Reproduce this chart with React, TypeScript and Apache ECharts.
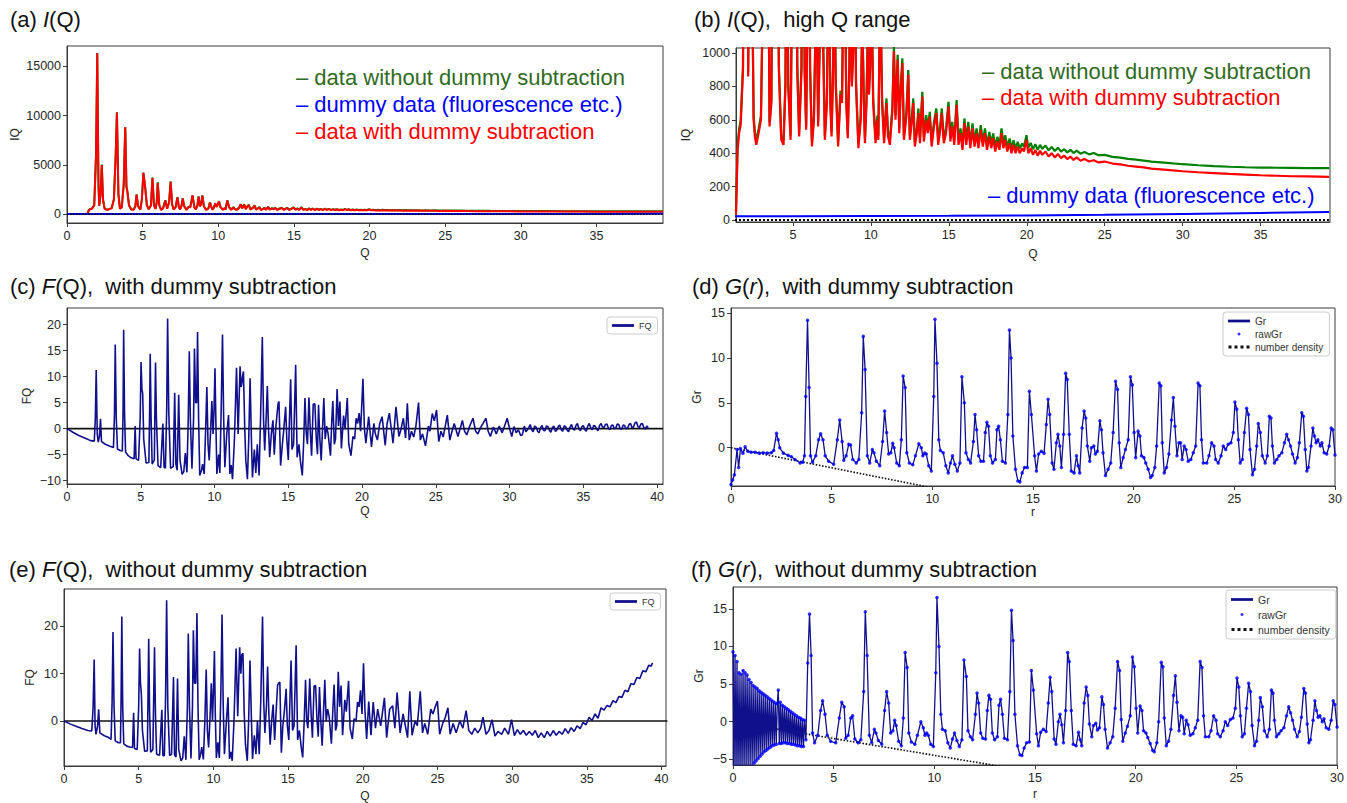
import React, { useEffect, useRef } from "react";
import * as echarts from "echarts";

// ---------------- (a)/(b) I(Q) ----------------
const iqWithDummySub: [number, number][] = [
  [1.35,30],[1.45,420],[1.55,520],[1.65,570],[1.8,900],[1.92,6000],[2.0,16300],[2.08,3000],[2.13,860],[2.22,2000],[2.3,5000],[2.38,1500],[2.48,600],[2.56,500],[2.65,450],[2.8,520],[2.95,600],[3.1,1500],[3.22,6000],[3.3,10300],[3.4,2000],[3.5,560],[3.62,700],[3.75,3000],[3.85,8800],[3.93,2800],[4.0,2200],[4.1,900],[4.25,480],[4.4,450],[4.52,800],[4.6,2000],[4.7,800],[4.85,480],[4.95,1500],[5.05,4200],[5.15,3000],[5.28,900],[5.4,500],[5.55,900],[5.65,3700],[5.75,900],[5.85,540],[5.93,1200],[6.0,3200],[6.1,900],[6.22,440],[6.35,600],[6.5,1400],[6.62,560],[6.75,1200],[6.85,3300],[6.95,1000],[7.05,480],[7.18,700],[7.3,1700],[7.4,700],[7.48,500],[7.58,900],[7.65,1600],[7.75,800],[7.9,440],[8.05,750],[8.15,700],[8.3,1900],[8.42,700],[8.52,490],[8.62,900],[8.7,1800],[8.78,800],[8.87,1000],[8.95,1900],[9.05,800],[9.2,430],[9.35,600],[9.45,1200],[9.55,700],[9.62,460],[9.72,700],[9.8,1100],[9.88,750],[9.95,900],[10.05,1300],[10.15,700],[10.3,460],[10.42,600],[10.48,480],[10.6,1400],[10.72,700],[10.85,460],[11.0,700],[11.1,500],[11.22,450],[11.38,650],[11.48,1010],[11.58,600],[11.72,960],[11.82,520],[11.92,780],[12.02,940],[12.12,480],[12.28,620],[12.4,870],[12.5,480],[12.62,580],[12.72,700],[12.82,440],[12.95,520],[13.05,640],[13.15,460],[13.3,740],[13.4,470],[13.55,600],[13.65,520],[13.78,620],[13.9,440],[14.05,560],[14.2,640],[14.32,450],[14.45,540],[14.55,640],[14.68,460],[14.82,520],[14.98,680],[15.1,470],[15.22,560],[15.35,450],[15.5,690],[15.62,450],[15.75,520],[15.88,420],[16.0,580],[16.12,450],[16.25,560],[16.38,430],[16.52,550],[16.65,440],[16.78,520],[16.9,430],[17.05,540],[17.18,440],[17.32,520],[17.45,420],[17.6,500],[17.72,430],[17.85,490],[17.98,410],[18.12,470],[18.25,420],[18.38,520],[18.5,430],[18.62,480],[18.75,410],[18.9,460],[19.02,400],[19.15,450],[19.28,400],[19.42,440],[19.55,400],[19.7,430],[19.82,410],[19.98,480],[20.1,400],[20.25,430],[20.4,390],[20.55,420],[20.7,385],[20.85,415],[21.0,390],[21.2,410],[21.4,380],[21.6,400],[21.8,375],[22.0,395],[22.2,370],[22.4,385],[22.6,365],[22.8,380],[23.0,360],[23.2,375],[23.45,355],[23.7,365],[24.0,350],[24.3,358],[24.6,345],[25.0,350],[25.5,338],[26.0,333],[26.5,325],[27.0,320],[27.5,315],[28.0,308],[29.0,300],[30.0,292],[31.0,286],[32.0,281],[33.0,276],[34.0,272],[35.0,268],[36.0,265],[37.0,262],[38.0,261],[39.4,258]
];
const iqWithoutDummySub: [number, number][] = [
  [1.35,55],[1.45,445],[1.55,545],[1.65,595],[1.8,925],[1.92,6030],[2.0,16330],[2.08,3030],[2.13,885],[2.22,2030],[2.3,5030],[2.38,1525],[2.48,625],[2.56,525],[2.65,478],[2.8,545],[2.95,625],[3.1,1525],[3.22,6030],[3.3,10330],[3.4,2030],[3.5,585],[3.62,725],[3.75,3030],[3.85,8830],[3.93,2830],[4.0,2230],[4.1,925],[4.25,505],[4.4,478],[4.52,825],[4.6,2030],[4.7,825],[4.85,505],[4.95,1525],[5.05,4230],[5.15,3030],[5.28,925],[5.4,525],[5.55,925],[5.65,3730],[5.75,925],[5.85,565],[5.93,1225],[6.0,3230],[6.1,925],[6.22,468],[6.35,625],[6.5,1425],[6.62,585],[6.75,1225],[6.85,3330],[6.95,1025],[7.05,505],[7.18,725],[7.3,1725],[7.4,725],[7.48,525],[7.58,925],[7.65,1625],[7.75,825],[7.9,468],[8.05,775],[8.15,725],[8.3,1925],[8.42,725],[8.52,515],[8.62,925],[8.7,1825],[8.78,825],[8.87,1025],[8.95,1925],[9.05,825],[9.2,458],[9.35,625],[9.45,1225],[9.55,725],[9.62,488],[9.72,725],[9.8,1125],[9.88,775],[9.95,925],[10.05,1325],[10.15,725],[10.3,488],[10.42,625],[10.48,505],[10.6,1425],[10.72,725],[10.85,488],[11.0,728],[11.1,528],[11.22,478],[11.38,678],[11.48,1040],[11.58,628],[11.72,990],[11.82,548],[11.92,808],[12.02,968],[12.12,508],[12.28,648],[12.4,898],[12.5,508],[12.62,608],[12.72,728],[12.82,468],[12.95,548],[13.05,668],[13.15,488],[13.3,768],[13.4,498],[13.55,628],[13.65,548],[13.78,648],[13.9,468],[14.05,588],[14.2,668],[14.32,478],[14.45,568],[14.55,668],[14.68,488],[14.82,548],[14.98,708],[15.1,498],[15.22,588],[15.35,478],[15.5,718],[15.62,478],[15.75,548],[15.88,448],[16.0,608],[16.12,478],[16.25,588],[16.38,458],[16.52,578],[16.65,468],[16.78,548],[16.9,458],[17.05,568],[17.18,468],[17.32,548],[17.45,448],[17.6,528],[17.72,458],[17.85,518],[17.98,438],[18.12,498],[18.25,448],[18.38,548],[18.5,458],[18.62,508],[18.75,438],[18.9,488],[19.02,428],[19.15,478],[19.28,428],[19.42,468],[19.55,428],[19.7,458],[19.82,438],[19.98,508],[20.1,432],[20.25,462],[20.4,424],[20.55,454],[20.7,420],[20.85,450],[21.0,426],[21.2,446],[21.4,417],[21.6,437],[21.8,413],[22.0,433],[22.2,409],[22.4,424],[22.6,405],[22.8,420],[23.0,401],[23.2,416],[23.45,397],[23.7,407],[24.0,393],[24.3,401],[24.6,388],[25.0,390],[25.5,378],[26.0,373],[26.5,366],[27.0,361],[27.5,356],[28.0,350],[29.0,342],[30.0,334],[31.0,328],[32.0,323],[33.0,319],[34.0,316],[35.0,314],[36.0,313],[37.0,312],[38.0,311],[39.4,311]
];
const dummyData: [number, number][] = [[0,22],[5,23],[10,24],[15,25],[20,27],[25,31],[30,36],[35,42],[39.4,48]];
const iqZero: [number, number][] = [[0,0],[39.4,0]];

// ---------------- (c)/(e) F(Q) ----------------
const fqWithSub: [number, number][] = [
  [0,0],[0.4,-0.7],[0.8,-1.3],[1.2,-1.8],[1.6,-2.3],[1.85,-2.4],[1.92,2],[1.98,11.3],[2.05,-1],[2.12,-2.6],[2.2,-1.5],[2.27,1.9],[2.34,-2.5],[2.6,-3.0],[2.9,-3.4],[3.15,-3.6],[3.22,3],[3.27,16.2],[3.34,2],[3.42,-3.9],[3.6,-4.2],[3.75,-4.3],[3.8,3],[3.84,19.0],[3.9,3],[3.97,-4.5],[4.15,-5.2],[4.35,-5.6],[4.55,-5.8],[4.62,0.5],[4.68,-5.8],[4.85,-6.1],[4.96,2],[5.02,12.8],[5.08,7.5],[5.13,6.8],[5.2,-2],[5.36,-6.6],[5.55,-6.5],[5.6,3],[5.64,14.4],[5.7,2],[5.77,-6.8],[5.92,-6.0],[5.96,4],[6.0,12.7],[6.06,2],[6.17,-7.1],[6.35,-7.5],[6.5,1.0],[6.58,-7.4],[6.67,-7.6],[6.76,4],[6.82,21.2],[6.9,3],[7.02,-7.6],[7.2,-7.3],[7.3,6.9],[7.38,-6.8],[7.47,-8.0],[7.57,6.5],[7.66,-6],[7.8,-8.8],[7.92,-8.2],[8.02,-4.7],[8.13,-8.4],[8.22,2],[8.29,14.9],[8.36,2],[8.47,-7.7],[8.58,2],[8.64,15.4],[8.72,5.0],[8.79,5],[8.85,18.6],[8.92,2],[9.0,-9.0],[9.12,-8.0],[9.19,-6.8],[9.3,-8.7],[9.4,0],[9.48,8.0],[9.56,-3],[9.64,-6.1],[9.74,0],[9.82,5.3],[9.9,-1],[9.97,4],[10.03,11.6],[10.1,0],[10.16,-8.7],[10.28,-5.0],[10.36,-8.5],[10.46,5],[10.54,18.1],[10.62,2],[10.7,-7.4],[10.83,-1],[10.95,2.6],[11.04,-8.7],[11.13,-7],[11.22,-9.7],[11.35,-2],[11.49,11.7],[11.6,-1],[11.73,12.0],[11.8,8.0],[11.85,8.7],[11.9,10],[11.96,11.0],[12.05,0],[12.12,-6.1],[12.23,-9.7],[12.32,-2],[12.41,9.7],[12.5,-2],[12.57,-9.4],[12.7,-4],[12.8,-8.5],[12.9,-3],[13.02,-9.0],[13.12,2],[13.24,17.6],[13.32,2],[13.4,-4.2],[13.5,2],[13.58,8.2],[13.66,0],[13.74,-5.5],[13.85,-1],[13.96,1.6],[14.05,-5],[14.15,0],[14.26,3.5],[14.32,5.0],[14.37,5.2],[14.48,-7.1],[14.6,-3],[14.7,0],[14.82,4.2],[14.9,-2],[15.0,-6],[15.16,9.5],[15.25,-4],[15.36,-3],[15.5,12.3],[15.6,-5.5],[15.72,-3],[15.83,-6.5],[15.95,-9.0],[16.05,-2],[16.13,5.9],[16.22,-1],[16.3,-3],[16.4,6.0],[16.5,-1],[16.58,-5.2],[16.69,4.7],[16.8,4.8],[16.9,-2],[16.98,-4.9],[17.05,4.6],[17.14,-2],[17.23,-6.1],[17.41,5.9],[17.5,-2],[17.6,0.5],[17.7,-1],[17.86,-5.2],[17.94,1],[18.02,5.3],[18.12,-3],[18.2,-2],[18.31,7.6],[18.4,0.5],[18.5,5.2],[18.6,-3.8],[18.75,2.5],[18.85,0],[19.0,5.9],[19.1,-3],[19.25,-5.2],[19.38,-1.5],[19.5,-2],[19.6,2],[19.7,1],[19.8,3],[19.9,-0.5],[20.06,9.6],[20.16,0],[20.26,-2.8],[20.45,2.3],[20.64,-3.5],[20.8,1.0],[20.9,-1],[21.04,-2.2],[21.2,1],[21.36,2.3],[21.57,-3.2],[21.7,1],[21.85,3.0],[22.1,-2.8],[22.3,4.2],[22.5,-1.5],[22.65,0],[22.8,2.0],[22.95,-1.8],[23.07,4.9],[23.2,-2.2],[23.35,-0.5],[23.5,-1.6],[23.65,0.5],[23.83,5.0],[23.95,-2.2],[24.1,-1],[24.3,-3.3],[24.5,0.5],[24.6,-0.5],[24.76,2.9],[24.9,1.5],[25.05,3.6],[25.2,-2.5],[25.35,-0.5],[25.5,-1.6],[25.78,2.6],[25.95,-2.2],[26.1,-0.5],[26.25,1.0],[26.5,-1.5],[26.7,0.5],[26.8,1.6],[26.95,-0.5],[27.1,-1.2],[27.3,0.5],[27.52,2.0],[27.7,-0.5],[27.85,-1.0],[28.05,0.3],[28.2,1.0],[28.4,2.0],[28.55,-0.5],[28.7,-1.5],[28.9,0.3],[29.1,-1.0],[29.3,0.5],[29.5,-0.8],[29.84,2.0],[30.0,0],[30.15,-1.5],[30.3,0.4],[30.45,-0.8],[30.6,-0.2],[30.75,-1.3],[30.86,-1.2],[31.0,0.5],[31.1,-0.6],[31.2,-0.3],[31.3,0.2],[31.4,0.8],[31.5,-0.2],[31.6,-0.6],[31.7,0.5],[31.8,0.3],[31.9,-0.5],[32.0,-0.8],[32.1,0.2],[32.2,0.6],[32.3,-0.3],[32.4,-0.4],[32.5,0.5],[32.6,0.4],[32.7,-0.3],[32.8,-0.7],[32.9,0.2],[33.0,0.5],[33.1,-0.5],[33.2,-0.3],[33.3,0.4],[33.4,0.7],[33.5,-0.2],[33.6,-0.5],[33.7,0.5],[33.8,0.4],[33.9,-0.3],[34.0,-0.6],[34.1,0.3],[34.2,0.8],[34.3,0.0],[34.4,-0.3],[34.5,0.6],[34.6,1.0],[34.7,0.0],[34.8,-0.4],[34.9,0.4],[35.0,0.6],[35.1,-0.2],[35.2,-0.5],[35.3,0.5],[35.4,1.0],[35.5,0.2],[35.6,-0.2],[35.7,0.6],[35.8,0.5],[35.9,-0.1],[36.0,-0.4],[36.1,0.6],[36.2,1.0],[36.3,0.3],[36.4,0.2],[36.5,0.8],[36.6,0.9],[36.7,0.1],[36.8,-0.2],[36.9,0.6],[37.0,0.7],[37.1,0.0],[37.2,0.1],[37.3,0.9],[37.4,0.8],[37.5,0.0],[37.6,-0.1],[37.7,0.7],[37.8,0.6],[37.9,0.0],[38.0,0.1],[38.1,0.8],[38.2,1.0],[38.3,0.2],[38.4,0.3],[38.5,1.1],[38.6,1.3],[38.7,0.4],[38.8,0.2],[38.9,0.9],[39.0,1.0],[39.1,0.2],[39.2,-0.1],[39.3,0.5],[39.4,0.2]
];
const fqWithoutSub: [number, number][] = [
  [0,0],[0.4,-0.6],[0.8,-1.1],[1.2,-1.6],[1.6,-2.0],[1.86,-2.1],[1.95,3],[2.02,13.0],[2.08,-1],[2.14,-2.8],[2.25,-1],[2.32,2.5],[2.4,-2.5],[2.7,-3.1],[3.0,-3.5],[3.15,-3.9],[3.22,4],[3.28,18.8],[3.35,3],[3.43,-4.2],[3.65,-4.6],[3.78,-4.6],[3.82,4],[3.87,22.1],[3.93,3],[4.0,-4.8],[4.2,-5.3],[4.4,-5.5],[4.59,-5.6],[4.66,1.75],[4.72,-5.8],[4.9,-6.0],[5.0,3],[5.06,15.3],[5.12,8],[5.18,5.6],[5.25,-2],[5.4,-6.4],[5.58,-6.3],[5.62,4],[5.67,17.4],[5.73,2],[5.8,-6.6],[5.95,-6],[6.0,4],[6.06,15.6],[6.12,2],[6.2,-7.0],[6.4,-7.2],[6.55,2.4],[6.62,-7.3],[6.72,-7.3],[6.8,5],[6.87,25.5],[6.95,3],[7.07,-7.3],[7.2,-7],[7.33,9.3],[7.4,-7.2],[7.5,-7.6],[7.6,9.0],[7.68,-6],[7.83,-8.4],[7.95,-7.8],[8.05,-3.2],[8.16,-8.2],[8.26,3],[8.32,18.5],[8.4,3],[8.5,-7.9],[8.6,3],[8.66,19.2],[8.74,8],[8.82,8],[8.9,22.8],[8.97,3],[9.05,-8.2],[9.15,-7],[9.22,-5.5],[9.33,-8.1],[9.43,0],[9.52,10.9],[9.6,-2],[9.68,-5.6],[9.78,1],[9.86,8.0],[9.94,0],[10.0,6],[10.07,14.8],[10.13,1],[10.2,-7.8],[10.3,-4.5],[10.4,-7.8],[10.5,6],[10.58,22.5],[10.66,3],[10.74,-7.0],[10.87,0],[10.98,5.0],[11.08,-8],[11.17,-6.5],[11.26,-8.4],[11.38,0],[11.52,15.3],[11.63,1],[11.76,15.6],[11.84,10],[11.9,14.0],[11.98,14.3],[12.06,2],[12.15,-5],[12.27,-8.4],[12.36,0],[12.45,12.8],[12.55,0],[12.62,-8.0],[12.74,-3],[12.85,-7],[12.95,0],[13.07,-7],[13.17,4],[13.29,22.1],[13.37,4],[13.45,-2.5],[13.55,3],[13.63,11.5],[13.71,2],[13.8,-5.0],[13.9,0],[14.0,3.5],[14.1,-4.0],[14.2,2],[14.3,7.6],[14.37,8.0],[14.45,8.2],[14.55,-6.7],[14.65,-1],[14.75,2],[14.87,6.8],[14.95,-1],[15.05,-4],[15.2,12.8],[15.3,-2],[15.4,-1],[15.54,16.0],[15.64,-4],[15.76,-2],[15.88,-5.5],[15.98,-7.7],[16.08,0],[16.17,8.7],[16.25,0],[16.33,-1.5],[16.45,9.0],[16.55,1],[16.63,-3.5],[16.74,7.4],[16.84,7.5],[16.94,0],[17.02,-3.3],[17.1,7.2],[17.2,-0.5],[17.28,-5.2],[17.46,8.7],[17.55,0],[17.65,2.5],[17.75,1],[17.9,-4.8],[18.0,2.5],[18.08,7.7],[18.18,-2],[18.26,-1],[18.36,10.4],[18.45,3],[18.55,7.5],[18.65,-3.0],[18.8,4.5],[18.9,2],[19.05,8.5],[19.15,-1.5],[19.3,-3.8],[19.42,0.5],[19.55,0],[19.65,4],[19.75,3],[19.85,6.5],[19.95,1.5],[20.05,12.2],[20.15,2],[20.26,-3.8],[20.4,4.1],[20.55,-3.0],[20.7,4.0],[20.85,-1.5],[21.0,2.5],[21.2,-1.0],[21.45,4.9],[21.6,-3.5],[21.8,2.5],[22.0,3.2],[22.15,-1.5],[22.3,6.0],[22.5,-2.5],[22.7,1.5],[22.85,-1],[23.0,-3.5],[23.15,6.3],[23.3,-3.0],[23.5,0],[23.65,-1],[23.85,6.3],[24.0,-2.5],[24.15,-0.5],[24.35,-2.8],[24.55,2.5],[24.7,1.5],[24.85,3.0],[25.0,4.2],[25.15,-2.8],[25.35,-0.5],[25.5,0.5],[25.7,2.8],[25.85,-2.8],[26.05,-0.5],[26.25,-2.5],[26.5,0],[26.7,-1.5],[26.92,2.2],[27.1,-2.0],[27.3,-2.8],[27.5,-1.5],[27.7,-2.5],[27.9,-1.5],[28.05,0.8],[28.25,-2.8],[28.45,-2.0],[28.65,0.3],[28.85,-3.2],[29.05,-2.2],[29.3,-2.8],[29.5,-1.5],[29.75,-2.8],[29.96,0.3],[30.15,-3.1],[30.35,-1.8],[30.55,-2.8],[30.75,-2.0],[30.95,-3.0],[31.15,-2.2],[31.35,-3.0],[31.55,-2.0],[31.75,-3.5],[31.95,-2.5],[32.15,-3.5],[32.35,-2.2],[32.55,-3.2],[32.75,-2.0],[32.95,-3.0],[33.15,-2.2],[33.35,-2.8],[33.55,-1.6],[33.75,-2.6],[33.95,-1.4],[34.15,-2.2],[34.35,-1.0],[34.55,-1.6],[34.75,-0.3],[34.95,-0.8],[35.15,0.8],[35.35,0.1],[35.55,1.5],[35.75,0.6],[35.95,2.8],[36.15,2.3],[36.35,3.3],[36.55,3.0],[36.75,4.3],[36.95,3.9],[37.15,5.2],[37.35,5.0],[37.55,6.5],[37.75,6.2],[37.95,7.9],[38.15,7.7],[38.35,9.2],[38.55,9.0],[38.75,10.6],[38.95,10.4],[39.15,11.8],[39.3,11.6],[39.4,12.3]
];
const fqZero: [number, number][] = [[0,0],[40.4,0]];

// ---------------- (d)/(f) G(r) ----------------
const grWithSub: [number, number][] = [
  [0,-4.1],[0.08,-3.6],[0.17,-3.0],[0.3,-0.2],[0.38,-2.2],[0.47,-0.1],[0.59,-0.6],[0.7,0.1],[0.84,-0.4],[1.0,-0.5],[1.2,-0.5],[1.4,-0.6],[1.6,-0.55],[1.8,-0.6],[2.0,-0.55],[2.12,-0.3],[2.26,1.6],[2.34,0.9],[2.42,0],[2.6,-0.6],[2.84,-0.85],[3.0,-1.0],[3.18,-1.3],[3.43,-1.7],[3.56,-1.6],[3.65,-0.9],[3.71,5.7],[3.8,14.2],[3.88,6.7],[3.95,-0.9],[4.05,-1.6],[4.21,-0.9],[4.35,0.9],[4.45,1.55],[4.57,0.9],[4.68,-0.9],[4.85,-1.5],[5.1,-1.85],[5.28,0.9],[5.4,3.1],[5.52,0.7],[5.6,-1.4],[5.72,-0.9],[5.85,0.4],[5.94,0.3],[6.05,-1.3],[6.22,-1.7],[6.35,-1.3],[6.49,3.9],[6.57,12.4],[6.66,8.7],[6.77,-0.9],[6.89,-1.7],[7.02,-0.2],[7.1,-0.55],[7.22,-1.5],[7.39,-2.0],[7.53,0.7],[7.63,4.1],[7.73,1.7],[7.83,-0.7],[7.94,-0.55],[8.03,0.5],[8.1,0],[8.23,-1.7],[8.36,-2.0],[8.46,0.9],[8.55,8.0],[8.65,6.7],[8.73,-0.55],[8.86,-1.7],[9.03,-1.9],[9.16,-0.9],[9.33,0.45],[9.45,0],[9.53,-0.9],[9.62,-0.6],[9.7,-0.7],[9.82,-2.0],[9.95,-2.6],[10.07,5.7],[10.13,14.3],[10.23,9.4],[10.32,0.9],[10.4,-0.3],[10.54,-0.55],[10.67,-2.0],[10.79,-2.8],[10.9,-1.7],[11.0,-0.9],[11.12,-1.85],[11.24,-2.6],[11.37,-1.7],[11.47,7.9],[11.59,5.0],[11.67,-0.55],[11.79,-1.3],[11.9,-1.7],[12.04,0.7],[12.12,3.7],[12.2,2.0],[12.3,-0.9],[12.41,-1.5],[12.54,-1.5],[12.63,1.7],[12.71,2.85],[12.79,2.4],[12.88,-0.9],[12.99,-1.7],[13.13,-1.3],[13.21,2.0],[13.29,2.4],[13.38,0.9],[13.48,-1.5],[13.63,-1.7],[13.75,3.7],[13.83,13.1],[13.91,10.0],[14.0,1.3],[14.13,-2.4],[14.25,-3.7],[14.35,-3.8],[14.46,-2.8],[14.58,-2.2],[14.72,-2.2],[14.82,6.3],[14.92,3.7],[15.08,-0.9],[15.17,-2.6],[15.28,-0.7],[15.41,-0.4],[15.55,-0.6],[15.66,2.6],[15.75,5.4],[15.83,3.7],[15.95,-1.7],[16.04,-2.4],[16.16,0.55],[16.24,1.5],[16.33,0.2],[16.41,-2.2],[16.52,1.5],[16.62,8.3],[16.7,7.6],[16.8,1.5],[16.9,-2.6],[17.04,-2.8],[17.16,-0.9],[17.24,-2.0],[17.32,-2.8],[17.44,2.2],[17.54,4.1],[17.62,3.3],[17.7,0.2],[17.82,-1.5],[17.9,0],[18.02,0.2],[18.1,-0.7],[18.2,-0.4],[18.32,3.0],[18.4,2.0],[18.48,-0.55],[18.6,-3.1],[18.73,-2.4],[18.86,-1.7],[18.98,1.7],[19.1,7.4],[19.2,6.5],[19.28,0.55],[19.36,-2.2],[19.48,-1.1],[19.59,-0.2],[19.73,0.9],[19.84,7.9],[19.93,7.0],[20.02,1.7],[20.1,-1.1],[20.22,1.85],[20.31,1.3],[20.39,-0.9],[20.51,-1.1],[20.6,-1.7],[20.72,-2.4],[20.84,-3.3],[20.92,-3.1],[21.05,-2.2],[21.14,0.2],[21.27,7.2],[21.35,6.9],[21.42,0.55],[21.52,-2.8],[21.63,-2.2],[21.75,-0.7],[21.88,3.1],[21.97,5.6],[22.05,2.4],[22.15,-0.9],[22.25,0.55],[22.33,0.55],[22.41,-1.3],[22.51,0.2],[22.6,-0.2],[22.71,-1.5],[22.84,-1.3],[22.96,-0.55],[23.08,0.2],[23.2,7.2],[23.29,6.9],[23.37,0.9],[23.46,-1.7],[23.63,-1.7],[23.74,-0.9],[23.87,0.55],[23.99,0.2],[24.07,-1.3],[24.2,-1.7],[24.34,-0.9],[24.45,0.2],[24.57,-0.2],[24.7,0.4],[24.83,0.55],[24.95,1.7],[25.03,5.1],[25.12,4.3],[25.2,0.9],[25.29,-1.7],[25.4,-1.3],[25.5,1.7],[25.61,4.4],[25.7,3.7],[25.78,-0.2],[25.9,-3.0],[26.0,-2.4],[26.11,0.2],[26.19,2.7],[26.29,1.7],[26.39,-0.9],[26.53,-1.7],[26.64,-0.9],[26.74,3.5],[26.82,3.3],[26.89,0.2],[26.99,-1.7],[27.11,-1.3],[27.22,-0.9],[27.36,-0.55],[27.49,0.55],[27.6,1.5],[27.69,0.9],[27.79,0.2],[27.89,-0.7],[28.02,-1.7],[28.13,-1.1],[28.23,0.55],[28.35,3.9],[28.43,3.5],[28.52,-0.2],[28.6,-2.6],[28.68,-2.2],[28.81,0.2],[28.9,2.2],[28.98,1.3],[29.06,0.55],[29.15,0.9],[29.27,0.2],[29.35,0.55],[29.46,-0.55],[29.59,-0.7],[29.71,0.2],[29.81,2.2],[29.89,2.0],[30.0,-0.8]
];
const grWithoutSub: [number, number][] = [
  [0,9.3],[0.05,-7.5],[0.1,8.8],[0.15,-7.5],[0.2,8.0],[0.25,-7.2],[0.3,6.5],[0.35,-7.0],[0.4,6.3],[0.45,-6.8],[0.5,6.8],[0.55,-6.6],[0.6,6.5],[0.65,-6.4],[0.7,6.2],[0.75,-6.2],[0.8,5.6],[0.85,-6.0],[0.9,5.2],[0.95,-5.8],[1.0,4.8],[1.05,-5.5],[1.1,4.6],[1.15,-5.2],[1.2,4.4],[1.25,-4.9],[1.3,4.1],[1.35,-4.6],[1.4,3.9],[1.45,-4.3],[1.5,3.7],[1.55,-4.0],[1.6,3.5],[1.65,-3.8],[1.7,3.3],[1.75,-3.6],[1.8,3.1],[1.85,-3.4],[1.9,2.9],[1.95,-3.2],[2.0,2.7],[2.05,-3.1],[2.1,2.5],[2.15,-3.0],[2.2,2.4],[2.25,4.2],[2.3,-2.9],[2.35,2.6],[2.4,-2.9],[2.45,2.2],[2.5,-2.8],[2.55,2.0],[2.6,-2.8],[2.65,1.8],[2.7,-2.9],[2.75,1.6],[2.8,-2.9],[2.85,1.4],[2.9,-3.0],[2.95,1.2],[3.0,-3.0],[3.05,1.0],[3.1,-3.1],[3.15,0.8],[3.2,-3.2],[3.25,0.6],[3.3,-3.2],[3.35,0.5],[3.4,-3.3],[3.45,0.3],[3.5,-3.3],[3.55,0.2],[3.62,-2.4],
  [3.71,7.8],[3.8,14.3],[3.88,8.8],[3.95,-1.5],[4.05,-2.8],[4.21,-1.8],[4.35,1.5],[4.45,2.8],[4.57,1.0],[4.68,-1.8],[4.85,-2.6],[5.1,-2.8],[5.28,0.5],[5.4,2.6],[5.52,2.0],[5.6,-2.2],[5.72,-1.8],[5.85,0.5],[5.94,0.8],[6.05,-2.3],[6.22,-2.8],[6.35,-2.4],[6.49,4.0],[6.57,14.6],[6.66,8.8],[6.77,-1.8],[6.89,-2.8],[7.02,-1.0],[7.1,-1.5],[7.22,-2.5],[7.39,-3.0],[7.53,1.5],[7.63,4.0],[7.73,2.5],[7.83,-1.5],[7.94,-1.2],[8.03,0.2],[8.1,-0.5],[8.23,-2.6],[8.36,-3.2],[8.46,0.5],[8.55,9.2],[8.65,7.2],[8.73,-1.5],[8.86,-2.7],[9.03,-3.0],[9.16,-1.8],[9.33,0.0],[9.45,-0.8],[9.53,-1.8],[9.62,-1.5],[9.7,-1.8],[9.82,-3.0],[9.95,-3.3],[10.07,6.5],[10.13,16.5],[10.23,10.0],[10.32,1.0],[10.4,-1.0],[10.54,-1.2],[10.67,-2.8],[10.79,-3.5],[10.9,-2.3],[11.0,-1.5],[11.12,-2.5],[11.24,-3.3],[11.37,-2.4],[11.47,8.2],[11.59,6.0],[11.67,-1.2],[11.79,-2.0],[11.9,-2.4],[12.04,1.0],[12.12,3.8],[12.2,2.5],[12.3,-1.5],[12.41,-2.2],[12.54,-2.3],[12.63,1.5],[12.71,3.5],[12.79,3.0],[12.88,-1.5],[12.99,-2.4],[13.13,-2.0],[13.21,2.2],[13.29,3.0],[13.38,1.0],[13.48,-2.2],[13.63,-2.4],[13.75,4.0],[13.83,14.8],[13.91,10.8],[14.0,1.0],[14.13,-3.2],[14.25,-4.4],[14.35,-4.5],[14.46,-3.5],[14.58,-2.8],[14.72,-2.7],[14.82,6.8],[14.92,4.2],[15.08,-1.6],[15.17,-3.2],[15.28,-1.4],[15.41,-1.0],[15.55,-1.3],[15.66,2.5],[15.75,5.9],[15.83,4.0],[15.95,-2.3],[16.04,-3.0],[16.16,0.0],[16.24,1.0],[16.33,-0.4],[16.41,-2.8],[16.52,1.5],[16.62,9.2],[16.7,8.0],[16.8,1.5],[16.9,-3.0],[17.04,-3.2],[17.16,-1.4],[17.24,-2.4],[17.32,-3.2],[17.44,2.5],[17.54,4.6],[17.62,3.5],[17.7,-0.3],[17.82,-2.0],[17.9,-0.5],[18.02,-0.2],[18.1,-1.1],[18.2,-0.8],[18.32,3.3],[18.4,2.3],[18.48,-1.0],[18.6,-3.5],[18.73,-2.8],[18.86,-2.0],[18.98,1.8],[19.1,8.0],[19.2,6.8],[19.28,0.3],[19.36,-2.6],[19.48,-1.5],[19.59,-0.6],[19.73,0.8],[19.84,8.6],[19.93,7.3],[20.02,1.8],[20.1,-1.5],[20.22,2.1],[20.31,1.5],[20.39,-1.2],[20.51,-1.5],[20.6,-2.1],[20.72,-2.9],[20.84,-3.8],[20.92,-4.0],[21.05,-2.8],[21.14,0.0],[21.27,7.9],[21.35,7.3],[21.42,0.5],[21.52,-3.2],[21.63,-2.6],[21.75,-1.0],[21.88,3.5],[21.97,6.1],[22.05,2.6],[22.15,-1.2],[22.25,0.8],[22.33,0.6],[22.41,-1.6],[22.51,0.2],[22.6,-0.4],[22.71,-1.8],[22.84,-1.6],[22.96,-0.8],[23.08,0.2],[23.2,8.0],[23.29,7.2],[23.37,0.8],[23.46,-2.0],[23.63,-2.0],[23.74,-1.2],[23.87,0.8],[23.99,0.2],[24.07,-1.6],[24.2,-2.0],[24.34,-1.2],[24.45,0.0],[24.57,-0.5],[24.7,0.3],[24.83,0.5],[24.95,1.8],[25.03,5.8],[25.12,4.6],[25.2,0.8],[25.29,-2.0],[25.4,-1.6],[25.5,1.8],[25.61,5.1],[25.7,4.0],[25.78,-0.5],[25.9,-3.2],[26.0,-2.6],[26.11,0.2],[26.19,3.2],[26.29,2.0],[26.39,-1.2],[26.53,-2.0],[26.64,-1.0],[26.74,4.2],[26.82,3.8],[26.89,0.2],[26.99,-2.0],[27.11,-1.6],[27.22,-1.2],[27.36,-0.8],[27.49,0.8],[27.6,2.0],[27.69,1.2],[27.79,0.2],[27.89,-1.0],[28.02,-2.0],[28.13,-1.3],[28.23,0.6],[28.35,4.4],[28.43,3.8],[28.52,-0.3],[28.6,-2.8],[28.68,-2.4],[28.81,0.2],[28.9,2.8],[28.98,1.5],[29.06,0.6],[29.15,0.8],[29.27,0.0],[29.35,0.4],[29.46,-0.8],[29.59,-1.0],[29.71,0.2],[29.81,2.8],[29.89,2.3],[30.0,-0.7]
];
const numberDensity: [number, number][] = [[0,0],[30,-13.4]];

// ---------------- ticks ----------------
const ticksQa = [0, 5, 10, 15, 20, 25, 30, 35];
const ticksIQa = [0, 5000, 10000, 15000];
const ticksQb = [5, 10, 15, 20, 25, 30, 35];
const ticksIQb = [0, 200, 400, 600, 800, 1000];
const ticksQ40 = [0, 5, 10, 15, 20, 25, 30, 35, 40];
const ticksFQc = [-10, -5, 0, 5, 10, 15, 20];
const ticksR = [0, 5, 10, 15, 20, 25, 30];
const ticksGd = [0, 5, 10, 15];
const ticksFQe = [0, 10, 20];
const ticksGf = [-5, 0, 5, 10, 15];

// ---------------- texts ----------------
const panelTitles = [
  "(a) {i|I}(Q)",
  "(b) {i|I}(Q),  high Q range",
  "(c) {i|F}(Q),  with dummy subtraction",
  "(d) {i|G}({i|r}),  with dummy subtraction",
  "(e) {i|F}(Q),  without dummy subtraction",
  "(f) {i|G}({i|r}),  without dummy subtraction",
];
const labelWithout = "– data without dummy subtraction";
const labelDummy = "– dummy data (fluorescence etc.)";
const labelWith = "– data with dummy subtraction";

const FONT = "'Liberation Sans', Arial, sans-serif";
const TICK_FONT = "'Liberation Sans Narrow', 'Liberation Sans', Arial, sans-serif";
const AX = "#3a3a3a";
const TXT = "#262626";
const NAVY = "#10108c";
const RED = "#ff0000";
const GREEN = "#008000";
const BLUE = "#0000ff";
const GREEN_T = "#2f6b22";

const LINE_ICON = "path://M0,0L24,0L24,3L0,3Z";
const DOT_LINE_ICON = "path://M0,0h3v3h-3zM6,0h3v3h-3zM12,0h3v3h-3zM18,0h3v3h-3z";

const fmt = (v: number) => (v < 0 ? "−" + Math.abs(v) : String(v));

function makeX(gridIndex: number, min: number, max: number, ticks: number[], name: string, nameGap: number) {
  return {
    type: "value", gridIndex, min, max, name, nameLocation: "middle", nameGap,
    nameTextStyle: { fontSize: 12, color: TXT, fontFamily: TICK_FONT },
    axisLine: { show: true, onZero: false, lineStyle: { color: AX, width: 1 } },
    axisTick: { show: true, length: 4, customValues: ticks, lineStyle: { color: AX } },
    axisLabel: { customValues: ticks, margin: 6, fontSize: 12.5, color: TXT, fontFamily: TICK_FONT, formatter: fmt },
    splitLine: { show: false },
  };
}
function makeY(gridIndex: number, min: number, max: number, ticks: number[], name: string, nameGap: number) {
  return {
    type: "value", gridIndex, min, max, name, nameLocation: "middle", nameGap, nameRotate: 90,
    nameTextStyle: { fontSize: 12, color: TXT, fontFamily: TICK_FONT },
    axisLine: { show: true, onZero: false, lineStyle: { color: AX, width: 1 } },
    axisTick: { show: true, length: 4, customValues: ticks, lineStyle: { color: AX } },
    axisLabel: { customValues: ticks, margin: 6, fontSize: 12.5, color: TXT, fontFamily: TICK_FONT, formatter: fmt },
    splitLine: { show: false },
  };
}
function lineS(name: string, idx: number, data: [number, number][], color: string, width: number, type: string = "solid", z = 2) {
  return {
    type: "line", name, xAxisIndex: idx, yAxisIndex: idx, data, showSymbol: false, symbol: "none",
    lineStyle: { color, width, type }, itemStyle: { color }, color, z, silent: true, clip: true,
  };
}
function dotS(name: string, idx: number, data: [number, number][]) {
  return {
    type: "scatter", name, xAxisIndex: idx, yAxisIndex: idx, data, symbolSize: 3.5,
    itemStyle: { color: BLUE }, color: BLUE, z: 3, silent: true, clip: true,
  };
}
function boxLegend(left: number, top: number, items: any[], fontSize: number, gap: number) {
  return {
    show: true, orient: "vertical", left, top, data: items, selectedMode: false,
    itemWidth: 22, itemHeight: 3, itemGap: gap, padding: [4, 6, 4, 5],
    backgroundColor: "#fff", borderColor: "#cccccc", borderWidth: 1, borderRadius: 3,
    textStyle: { fontSize, color: "#333", fontFamily: FONT },
    itemStyle: { borderWidth: 0 },
  };
}

function buildOption() {
  const grids = [
    { left: 67, top: 46, width: 596, height: 177 },
    { left: 736, top: 48, width: 594, height: 174 },
    { left: 67, top: 308, width: 596, height: 176 },
    { left: 731, top: 308, width: 604, height: 178 },
    { left: 64, top: 589, width: 602, height: 178 },
    { left: 733, top: 587, width: 608, height: 178 },
  ].map((g) => ({ ...g, show: true, borderColor: AX, borderWidth: 1, backgroundColor: "transparent" }));

  const titlePos = [[10, 8], [694, 8], [10, 275], [692, 275], [9, 558], [691, 558]];
  const title = panelTitles.map((t, i) => ({
    text: t, left: titlePos[i][0], top: titlePos[i][1], padding: 0,
    textStyle: {
      fontSize: 22, fontWeight: "normal", color: "#111", fontFamily: FONT,
      rich: { i: { fontSize: 22, fontStyle: "italic", color: "#111", fontFamily: FONT } },
    },
  }));

  const gText = (x: number, y: number, text: string, fill: string) => ({
    type: "text", x, y, silent: true,
    style: { text, fill, fontSize: 22, fontFamily: FONT, verticalAlign: "middle", align: "left" },
  });

  const xAxis = [
    makeX(0, 0, 39.4, ticksQa, "Q", 24),
    makeX(1, 1.35, 39.45, ticksQb, "Q", 26),
    makeX(2, 0, 40.4, ticksQ40, "Q", 21),
    makeX(3, 0, 30, ticksR, "r", 19),
    makeX(4, 0, 40.3, ticksQ40, "Q", 24),
    makeX(5, 0, 30, ticksR, "r", 23),
  ];
  const yAxis = [
    makeY(0, -880, 17040, ticksIQa, "IQ", 46),
    makeY(1, -12, 1030, ticksIQb, "IQ", 44),
    makeY(2, -10.64, 23.2, ticksFQc, "FQ", 34),
    makeY(3, -4.26, 15.56, ticksGd, "Gr", 28),
    makeY(4, -9.5, 27.9, ticksFQe, "FQ", 28),
    makeY(5, -5.75, 17.9, ticksGf, "Gr", 28),
  ];

  const series = [
    // (a)
    lineS("data without dummy subtraction", 0, iqWithoutDummySub, GREEN, 2),
    lineS("data with dummy subtraction", 0, iqWithDummySub, RED, 2),
    lineS("dummy data", 0, dummyData, BLUE, 2),
    lineS("zero", 0, iqZero, "#000", 1.5, "dotted"),
    // (b)
    lineS("data without dummy subtraction", 1, iqWithoutDummySub, GREEN, 2.2),
    lineS("data with dummy subtraction", 1, iqWithDummySub, RED, 2.2),
    lineS("dummy data", 1, dummyData, BLUE, 2),
    lineS("zero", 1, iqZero, "#000", 2, "dotted"),
    // (c)
    lineS("zeroFQ", 2, fqZero, "#111", 1.6),
    lineS("FQ", 2, fqWithSub, NAVY, 1.6, "solid", 3),
    // (d)
    lineS("number density", 3, numberDensity, "#111", 1.6, "dotted"),
    lineS("Gr", 3, grWithSub, NAVY, 1.3, "solid", 3),
    dotS("rawGr", 3, grWithSub),
    // (e)
    lineS("zeroFQ", 4, fqZero, "#111", 1.6),
    lineS("FQ", 4, fqWithoutSub, NAVY, 1.6, "solid", 3),
    // (f)
    lineS("number density", 5, numberDensity, "#111", 1.6, "dotted"),
    lineS("Gr", 5, grWithoutSub, NAVY, 1.3, "solid", 3),
    dotS("rawGr", 5, grWithoutSub),
  ];

  const fqItem = [{ name: "FQ", icon: LINE_ICON, itemStyle: { color: NAVY, borderWidth: 0 } }];
  const grItems = [
    { name: "Gr", icon: LINE_ICON, itemStyle: { color: NAVY, borderWidth: 0 } },
    { name: "rawGr", icon: "circle", itemStyle: { color: BLUE, borderWidth: 0 } },
    { name: "number density", icon: DOT_LINE_ICON, itemStyle: { color: "#111", borderWidth: 0 } },
  ];
  const legend = [
    boxLegend(607, 317, fqItem, 9, 3),
    boxLegend(1223, 312, grItems, 10, 3),
    boxLegend(610, 593, fqItem, 9, 3),
    boxLegend(1226, 590, grItems, 10.5, 4),
  ];

  return {
    animation: false,
    backgroundColor: "#ffffff",
    textStyle: { fontFamily: FONT },
    title,
    grid: grids,
    xAxis,
    yAxis,
    legend,
    series,
    graphic: [
      gText(296, 77, labelWithout, GREEN_T),
      gText(296, 104, labelDummy, BLUE),
      gText(296, 131, labelWith, RED),
      gText(982, 71, labelWithout, GREEN_T),
      gText(982, 97, labelWith, RED),
      gText(988, 195, labelDummy, BLUE),
    ],
  };
}

export default function App() {
  const ref = useRef<HTMLDivElement>(null);
  useEffect(() => {
    if (!ref.current) return;
    const chart = echarts.init(ref.current, null, { renderer: "svg" });
    chart.setOption(buildOption() as any);
    return () => chart.dispose();
  }, []);
  return (
    <div
      ref={ref}
      style={{ position: "absolute", left: 0, top: 0, width: 1347, height: 803, background: "#fff" }}
    />
  );
}
